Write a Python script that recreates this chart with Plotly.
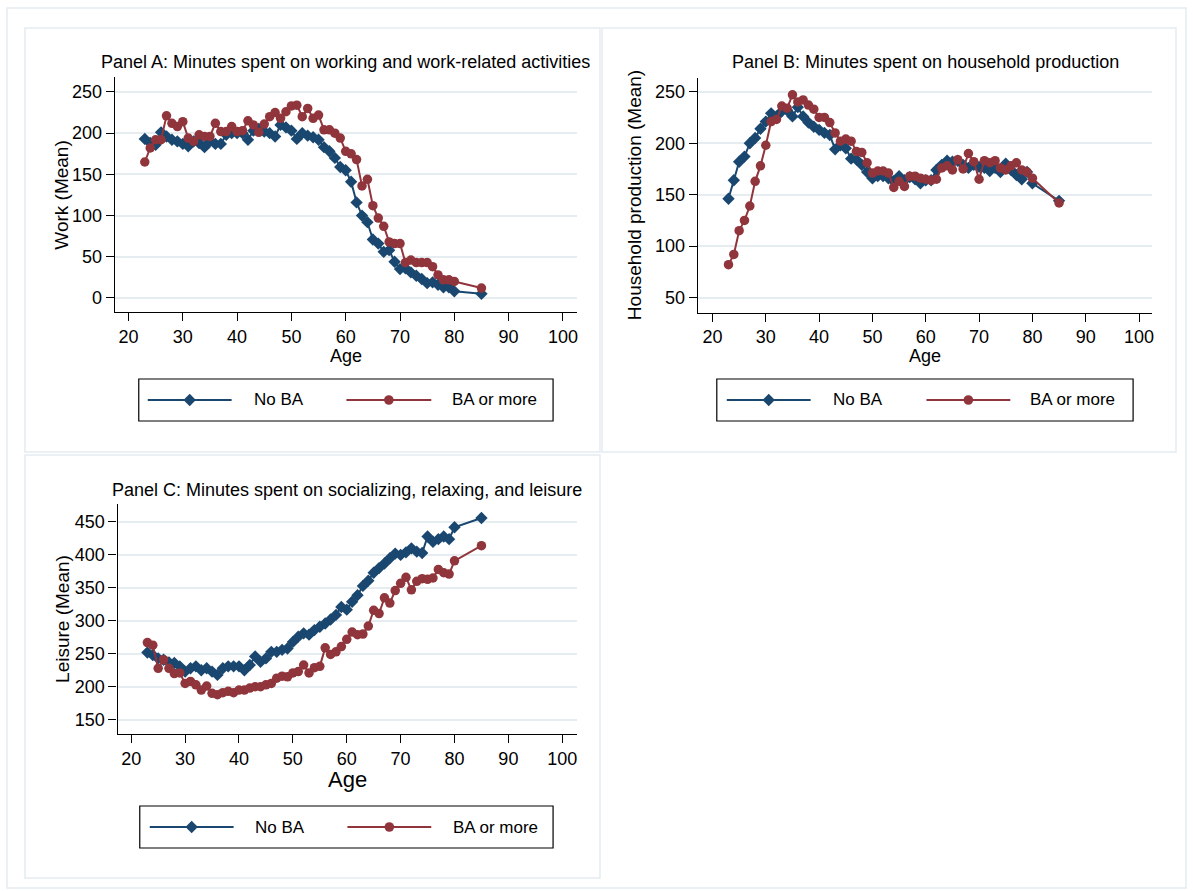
import plotly.graph_objects as go

# ---------------- data ----------------
ages = [23, 24, 25, 26, 27, 28, 29, 30, 31, 32, 33, 34, 35, 36, 37, 38, 39, 40,
        41, 42, 43, 44, 45, 46, 47, 48, 49, 50, 51, 52, 53, 54, 55, 56, 57, 58,
        59, 60, 61, 62, 63, 64, 65, 66, 67, 68, 69, 70, 71, 72, 73, 74, 75, 76,
        77, 78, 79, 80, 85]

work_noba = [193, 188, 186, 201, 196, 192, 190, 187, 184, 190, 188, 183, 190, 187, 187, 198, 200, 200,
             200, 192, 203, 205, 202, 200, 196, 210, 207, 203, 193, 200, 197, 195, 192, 183, 178, 170,
             159, 155, 141, 116, 100, 92, 71, 66, 56, 58, 44, 35, 36, 31, 27, 23, 18, 19,
             16, 13, 13, 8, 5]
work_ba = [165, 182, 192, 192, 221, 212, 208, 214, 194, 190, 198, 196, 196, 212, 202, 202, 208, 202,
           203, 215, 210, 201, 211, 220, 225, 218, 226, 233, 234, 220, 230, 218, 222, 204, 204, 200,
           194, 178, 175, 168, 136, 144, 112, 97, 87, 68, 66, 66, 43, 46, 43, 43, 43, 38,
           28, 22, 22, 20, 12]

home_noba = [146, 164, 182, 187, 200, 205, 214, 221, 229, 226, 231, 232, 226, 235, 226, 220, 216, 213,
             210, 208, 194, 198, 195, 185, 184, 179, 172, 166, 168, 168, 166, 163, 168, 164, 167, 165,
             161, 164, 164, 174, 179, 183, 182, 183, 179, 176, 179, 177, 176, 173, 176, 172, 180, 174,
             169, 165, 172, 161, 144]
home_ba = [82, 92, 115, 125, 139, 163, 178, 198, 221, 223, 236, 234, 247, 240, 242, 237, 233, 225,
           225, 220, 210, 202, 204, 202, 192, 191, 181, 171, 173, 173, 171, 157, 163, 158, 168, 168,
           166, 165, 164, 165, 176, 178, 174, 184, 175, 190, 182, 165, 183, 181, 183, 176, 174, 178,
           181, 174, 172, 166, 142]

leis_noba = [252, 248, 243, 241, 237, 236, 231, 223, 228, 231, 225, 228, 223, 218, 228, 231, 231, 231,
             225, 233, 246, 238, 243, 253, 253, 256, 258, 268, 276, 281, 279, 286, 291, 296, 302, 309,
             321, 317, 329, 339, 353, 361, 373, 380, 387, 395, 402, 400, 404, 410, 405, 403, 428, 420,
             424, 428, 424, 442, 456]
leis_ba = [267, 263, 228, 241, 228, 220, 221, 205, 208, 203, 195, 201, 190, 188, 191, 193, 191, 195,
           195, 198, 200, 200, 203, 205, 213, 216, 215, 221, 223, 233, 221, 229, 231, 259, 249, 253,
           261, 272, 283, 279, 280, 292, 316, 311, 335, 327, 346, 357, 366, 347, 360, 364, 363, 365,
           378, 373, 371, 391, 414]

x_ticks = [20, 30, 40, 50, 60, 70, 80, 90, 100]
series_names = ["No BA", "BA or more"]
titles = ["Panel A: Minutes spent on working and work-related activities",
          "Panel B: Minutes spent on household production",
          "Panel C: Minutes spent on socializing, relaxing, and leisure"]
y_titles = ["Work (Mean)", "Household production (Mean)", "Leisure (Mean)"]
y_ticks = [[0, 50, 100, 150, 200, 250],
           [50, 100, 150, 200, 250],
           [150, 200, 250, 300, 350, 400, 450]]
y_ranges = [[-17.4, 267.8], [35.4, 263.6], [128.3, 477.3]]

# ---------------- styling ----------------
W, H = 1193, 891
NAVY = "#1a476f"
MAROON = "#90353b"
GRID = "#e6edf1"
FRAME = "#e4ecf0"
FONT = "Liberation Sans, Arial, sans-serif"
TICK_SIZE = 18
TITLE_SIZE = 18
YTITLE_SIZE = 19
LEG_SIZE = 17


def px(x):
    return x / W


def py(y):
    return 1 - y / H


# plot areas in pixels: (left, right, top, bottom)
areas = [(115, 578, 77.3, 312.3),
         (699, 1154.3, 77.7, 312.7),
         (117.7, 577.5, 504, 734)]
x_ranges = [[17.48, 102.6], [17.25, 102.5], [17.45, 102.65]]

fig = go.Figure()
panels = [(work_noba, work_ba), (home_noba, home_ba), (leis_noba, leis_ba)]
for i, (nb, ba) in enumerate(panels):
    xa = "x" if i == 0 else f"x{i+1}"
    ya = "y" if i == 0 else f"y{i+1}"
    fig.add_trace(go.Scatter(x=ages, y=nb, mode="lines+markers", name=series_names[0],
                             xaxis=xa, yaxis=ya, showlegend=False,
                             line=dict(color=NAVY, width=2),
                             marker=dict(symbol="diamond", size=9.5, color=NAVY, line=dict(width=0))))
    fig.add_trace(go.Scatter(x=ages, y=ba, mode="lines+markers", name=series_names[1],
                             xaxis=xa, yaxis=ya, showlegend=False,
                             line=dict(color=MAROON, width=2),
                             marker=dict(symbol="circle", size=9.5, color=MAROON, line=dict(width=0))))

layout = dict(width=W, height=H, margin=dict(l=0, r=0, t=0, b=0),
              paper_bgcolor="white", plot_bgcolor="white",
              font=dict(family=FONT, size=16, color="black"), showlegend=False)

for i, (l, r, t, b) in enumerate(areas):
    xk = "xaxis" if i == 0 else f"xaxis{i+1}"
    yk = "yaxis" if i == 0 else f"yaxis{i+1}"
    ya = "y" if i == 0 else f"y{i+1}"
    xa = "x" if i == 0 else f"x{i+1}"
    layout[xk] = dict(domain=[px(l), px(r)], anchor=ya, range=x_ranges[i],
                      tickmode="array", tickvals=x_ticks, ticks="outside", ticklen=8,
                      tickcolor="black", tickwidth=1.2, showline=True, linecolor="black",
                      linewidth=1.2, showgrid=False, zeroline=False,
                      tickfont=dict(size=TICK_SIZE, family=FONT, color="black"))
    layout[yk] = dict(domain=[py(b), py(t)], anchor=xa, range=y_ranges[i],
                      tickmode="array", tickvals=y_ticks[i], ticks="outside", ticklen=8,
                      tickcolor="black", tickwidth=1.2, showline=True, linecolor="black",
                      linewidth=1.2, showgrid=True, gridcolor=GRID, gridwidth=2,
                      zeroline=False, tickfont=dict(size=TICK_SIZE, family=FONT, color="black"))

fig.update_layout(**layout)

annotations = []
shapes = []

# outer frames
shapes.append(dict(type="rect", xref="paper", yref="paper", x0=px(7), x1=px(1188), y0=py(888), y1=py(8),
                   line=dict(color=FRAME, width=1.5), fillcolor="rgba(0,0,0,0)", layer="below"))
for (x0, x1, y0, y1) in [(25, 601, 28, 452), (603, 1178, 28, 452), (25, 601, 455, 878)]:
    shapes.append(dict(type="rect", xref="paper", yref="paper", x0=px(x0), x1=px(x1), y0=py(y1), y1=py(y0),
                       line=dict(color=FRAME, width=1.5), fillcolor="rgba(0,0,0,0)", layer="below"))

title_y = [62, 62, 490]
ytitle_x = [62, 635, 62]
xtitle_y = [356, 356, 779]
xtitle_size = [18, 18, 22]
for i, (l, r, t, b) in enumerate(areas):
    cx = (l + r) / 2
    annotations.append(dict(text=titles[i], x=px(cx), y=py(title_y[i]), xref="paper", yref="paper",
                            showarrow=False, xanchor="center", yanchor="middle",
                            font=dict(size=TITLE_SIZE, family=FONT, color="black")))
    annotations.append(dict(text=y_titles[i], x=px(ytitle_x[i]), y=py((t + b) / 2), xref="paper", yref="paper",
                            showarrow=False, textangle=-90, xanchor="center", yanchor="middle",
                            font=dict(size=YTITLE_SIZE, family=FONT, color="black")))
    annotations.append(dict(text="Age", x=px(cx), y=py(xtitle_y[i]), xref="paper", yref="paper",
                            showarrow=False, xanchor="center", yanchor="middle",
                            font=dict(size=xtitle_size[i], family=FONT, color="black")))

# legends (box, line1 start, marker1, text1 x, line2 start, marker2, text2 x)
legends = [dict(box=(139, 554, 379, 421), l1=(148, 232), t1=252, l2=(347, 432), t2=451),
           dict(box=(718, 1135, 379, 421), l1=(728, 812), t1=832, l2=(928, 1012), t2=1030),
           dict(box=(140, 554, 806, 848), l1=(150, 234), t1=253, l2=(348, 432), t2=452)]
for lg in legends:
    bx0, bx1, by0, by1 = lg["box"]
    cy = (by0 + by1) / 2
    shapes.append(dict(type="rect", xref="paper", yref="paper", x0=px(bx0), x1=px(bx1),
                       y0=py(by1), y1=py(by0), line=dict(color="black", width=1.2)))
    for (lx0, lx1), col, sym, tx, name in [(lg["l1"], NAVY, "diamond", lg["t1"], series_names[0]),
                                          (lg["l2"], MAROON, "circle", lg["t2"], series_names[1])]:
        shapes.append(dict(type="line", xref="paper", yref="paper", x0=px(lx0), x1=px(lx1),
                           y0=py(cy), y1=py(cy), line=dict(color=col, width=2)))
        mx = (lx0 + lx1) / 2
        if sym == "diamond":
            r = 6.2
            path = (f"M {px(mx - r)},{py(cy)} L {px(mx)},{py(cy - r)} L {px(mx + r)},{py(cy)} "
                    f"L {px(mx)},{py(cy + r)} Z")
            shapes.append(dict(type="path", xref="paper", yref="paper", path=path,
                               fillcolor=col, line=dict(width=0)))
        else:
            r = 4.8
            shapes.append(dict(type="circle", xref="paper", yref="paper", x0=px(mx - r), x1=px(mx + r),
                               y0=py(cy + r), y1=py(cy - r), fillcolor=col, line=dict(width=0)))
        annotations.append(dict(text=name, x=px(tx), y=py(cy), xref="paper", yref="paper",
                                showarrow=False, xanchor="left", yanchor="middle",
                                font=dict(size=LEG_SIZE, family=FONT, color="black")))

fig.update_layout(annotations=annotations, shapes=shapes)
fig.write_html("out.html")
